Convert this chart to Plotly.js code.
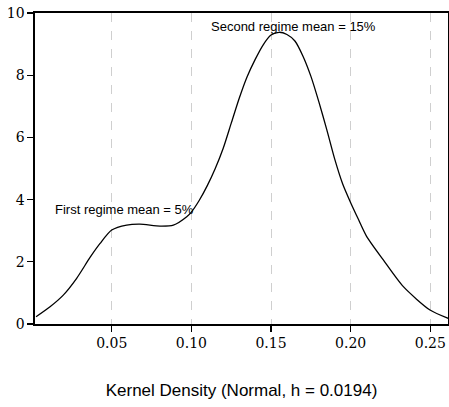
<!DOCTYPE html>
<html>
<head>
<meta charset="utf-8">
<script src="https://cdn.plot.ly/plotly-3.0.1.min.js"></script>
<style>html,body{margin:0;padding:0;background:#fff;}#chart{width:449px;height:407px;}</style>
</head>
<body>
<div id="chart"></div>
<script>
// Kernel density estimate
const returnsX = [0.0025, 0.0113, 0.0196, 0.028, 0.0364, 0.0427, 0.05, 0.0594, 0.0677, 0.0803, 0.0887, 0.0971,
  0.100, 0.105, 0.110, 0.115, 0.120, 0.125, 0.130, 0.135, 0.140, 0.145, 0.150, 0.155, 0.160, 0.165,
  0.170, 0.175, 0.180, 0.185, 0.190, 0.195, 0.200, 0.205, 0.210, 0.2205, 0.2331, 0.2498, 0.2613];
const densityY = [0.235, 0.556, 0.93, 1.47, 2.14, 2.59, 3.02, 3.18, 3.21, 3.15, 3.18, 3.45,
  3.6, 3.98, 4.45, 5.0, 5.65, 6.45, 7.25, 7.95, 8.5, 8.97, 9.29, 9.38, 9.31, 9.1,
  8.62, 7.97, 7.15, 6.25, 5.3, 4.5, 3.9, 3.35, 2.82, 2.06, 1.2, 0.45, 0.18];
const xTicks = [0.05, 0.10, 0.15, 0.20, 0.25];
const xTickLabels = ["0.05", "0.10", "0.15", "0.20", "0.25"];
const yTicks = [0, 2, 4, 6, 8, 10];
const notes = [
  {text: "First regime mean = 5%", x: 0.0583, y: 3.68},
  {text: "Second regime mean = 15%", x: 0.1639, y: 9.57}
];
const xTitle = "Kernel Density (Normal, h = 0.0194)";

const trace = {
  x: returnsX, y: densityY, type: 'scatter', mode: 'lines',
  line: {color: '#000', width: 1.3, shape: 'spline', smoothing: 0.7},
  hoverinfo: 'skip'
};

const sans = 'Liberation Sans, Arial, sans-serif';
const serifFont = {family: 'DejaVu Serif, serif', size: 14, color: '#000'};
const layout = {
  width: 449, height: 407,
  margin: {l: 35, r: 1, t: 13, b: 83},
  paper_bgcolor: '#fff', plot_bgcolor: '#fff',
  showlegend: false,
  xaxis: {
    range: [0.00185, 0.2611],
    tickvals: xTicks, ticktext: xTickLabels,
    ticks: 'outside', ticklen: 6, tickwidth: 1.3, tickcolor: '#000',
    showline: true, linecolor: '#000', linewidth: 1.6, mirror: true,
    showgrid: true, gridcolor: '#cfcfcf', gridwidth: 1, griddash: 'dash',
    zeroline: false,
    tickfont: serifFont,
    title: {text: xTitle, font: {family: sans, size: 17, color: '#000'}, standoff: 33},
    automargin: false
  },
  yaxis: {
    range: [0, 10],
    tickvals: yTicks,
    ticks: 'outside', ticklen: 6, tickwidth: 1.3, tickcolor: '#000',
    showline: true, linecolor: '#000', linewidth: 1.6, mirror: true,
    showgrid: false, zeroline: false,
    tickfont: serifFont,
    automargin: false
  },
  annotations: notes.map(n => ({
    text: n.text, x: n.x, y: n.y, xref: 'x', yref: 'y',
    showarrow: false, xanchor: 'center', yanchor: 'middle',
    font: {family: sans, size: 13, color: '#000'}
  }))
};

Plotly.newPlot('chart', [trace], layout, {displayModeBar: false, staticPlot: true});
</script>
</body>
</html>
